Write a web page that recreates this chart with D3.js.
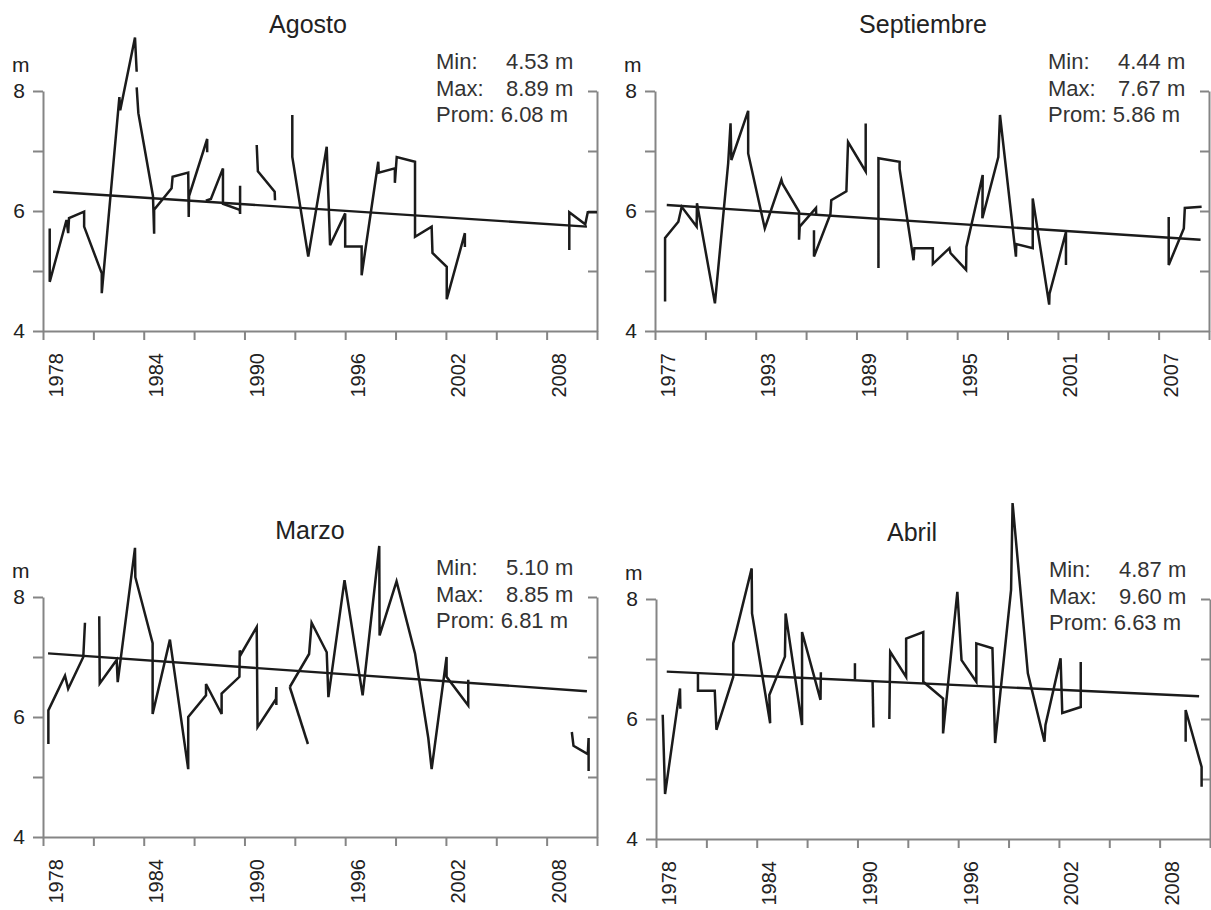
<!DOCTYPE html>
<html>
<head>
<meta charset="utf-8">
<script src="https://cdn.jsdelivr.net/npm/d3@7"></script>
<style>
  body { margin: 0; background: #fff; }
  svg { display: block; font-family: 'Liberation Sans', Arial, sans-serif; }
  .axis path, .axis line { stroke: #858585; stroke-width: 2; }
  .axis text { fill: #222; }
  .serie { fill: none; stroke: #1b1b1b; stroke-width: 2.5; stroke-linejoin: miter; }
  .trend { fill: none; stroke: #1b1b1b; stroke-width: 2.4; }
</style>
</head>
<body>
<div id="chart"></div>
<script>
// values: [year, metres], one inner array per unbroken piece of line
const agostoSegments = [
  [[1978.4, 5.71], [1978.4, 4.82], [1979.4, 5.85], [1979.5, 5.63], [1979.55, 5.88], [1980.45, 5.99],
   [1980.45, 5.74], [1981.5, 4.96], [1981.5, 4.63], [1982.55, 7.9], [1982.6, 7.68], [1983.48, 8.89],
   [1983.58, 8.32]],
  [[1983.58, 8.06], [1983.68, 7.63], [1984.55, 6.25], [1984.62, 5.62], [1984.62, 6.02], [1985.66, 6.38],
   [1985.72, 6.57], [1986.65, 6.64], [1986.68, 5.9], [1986.7, 6.25], [1987.78, 7.2], [1987.78, 6.98]],
  [[1987.7, 6.17], [1988.0, 6.2], [1988.72, 6.71], [1988.72, 6.12], [1989.72, 6.02], [1989.74, 5.95],
   [1989.74, 6.42]],
  [[1990.73, 7.1], [1990.8, 6.66], [1991.8, 6.32], [1991.82, 6.18]],
  [[1992.85, 7.6], [1992.85, 6.9], [1993.8, 5.24], [1994.9, 7.07], [1995.1, 5.43], [1996.0, 5.96],
   [1996.0, 5.41], [1996.98, 5.41], [1996.98, 4.93], [1997.97, 6.82], [1998.0, 6.64], [1998.96, 6.71],
   [1998.96, 6.47], [1999.07, 6.9], [2000.16, 6.82], [2000.16, 5.57], [2001.15, 5.74], [2001.2, 5.3],
   [2002.05, 5.07], [2002.05, 4.53], [2003.13, 5.63], [2003.13, 5.4]],
  [[2009.35, 5.35], [2009.35, 5.98], [2010.3, 5.78], [2010.45, 5.98], [2011, 5.98]]
];
const agostoTrend = [[1978.6, 6.32], [2010.4, 5.74]];
const agostoStats = ['4.53 m', '8.89 m', '6.08 m'];
const agostoYearLabels = ['1978', '1984', '1990', '1996', '2002', '2008'];

const septiembreSegments = [
  [[1977.6, 4.49], [1977.6, 5.55], [1978.39, 5.82], [1978.59, 6.07], [1979.48, 5.74], [1979.5, 6.13],
   [1980.57, 4.46], [1981.36, 6.8], [1981.5, 7.46], [1981.55, 6.85], [1982.55, 7.67], [1982.55, 6.96],
   [1983.54, 5.71], [1984.53, 6.52], [1984.6, 6.45], [1985.58, 5.99], [1985.58, 5.52], [1985.62, 5.74],
   [1986.59, 6.05], [1986.6, 5.95]],
  [[1986.47, 5.68], [1986.47, 5.24], [1987.45, 5.95], [1987.5, 6.18], [1988.4, 6.33], [1988.5, 7.15],
   [1989.55, 6.66], [1989.55, 7.46]],
  [[1990.31, 5.05], [1990.31, 6.88], [1991.57, 6.82], [1991.57, 6.7], [1992.4, 5.18], [1992.45, 5.38],
   [1993.55, 5.38], [1993.55, 5.12], [1994.54, 5.38], [1994.6, 5.3], [1995.53, 5.02], [1995.55, 5.4],
   [1996.52, 6.6], [1996.5, 5.88], [1997.45, 6.9], [1997.55, 7.6], [1998.5, 5.24], [1998.52, 5.45],
   [1999.5, 5.38], [1999.5, 6.21], [2000.48, 4.44], [2000.5, 4.62], [2001.48, 5.65], [2001.48, 5.1]],
  [[2007.6, 5.9], [2007.6, 5.1], [2008.5, 5.71], [2008.56, 6.05], [2009.56, 6.07]]
];
const septiembreTrend = [[1977.7, 6.1], [2009.5, 5.52]];
const septiembreStats = ['4.44 m', '7.67 m', '5.86 m'];
const septiembreYearLabels = ['1977', '1993', '1989', '1995', '2001', '2007'];

const marzoSegments = [
  [[1978.32, 5.55], [1978.32, 6.11], [1979.31, 6.69], [1979.5, 6.47], [1980.4, 7.0], [1980.5, 7.57]],
  [[1981.35, 7.68], [1981.38, 6.56], [1982.39, 6.95], [1982.45, 6.58], [1983.48, 8.82], [1983.5, 8.33],
   [1984.53, 7.23], [1984.53, 6.05], [1985.56, 7.29], [1986.65, 5.13], [1986.65, 6.0], [1987.71, 6.36],
   [1987.71, 6.55], [1988.64, 6.05], [1988.64, 6.39], [1989.7, 6.67], [1989.72, 7.11], [1989.8, 7.05],
   [1990.73, 7.5], [1990.78, 5.83], [1991.88, 6.3], [1991.9, 6.5], [1991.9, 6.2]],
  [[1992.7, 6.5], [1993.78, 5.55]],
  [[1992.7, 6.5], [1993.85, 7.05], [1994.0, 7.57], [1994.9, 7.08], [1995.0, 6.33], [1995.96, 8.28],
   [1997.04, 6.36], [1998.03, 8.85], [1998.05, 7.36], [1999.06, 8.26], [2000.16, 7.06], [2000.95, 5.65],
   [2001.15, 5.13], [2002.04, 7.0], [2002.04, 6.67], [2003.33, 6.19], [2003.33, 6.62]],
  [[2009.5, 5.75], [2009.6, 5.52], [2010.45, 5.38], [2010.5, 5.65], [2010.5, 5.1]]
];
const marzoTrend = [[1978.3, 7.06], [2010.4, 6.43]];
const marzoStats = ['5.10 m', '8.85 m', '6.81 m'];
const marzoYearLabels = ['1978', '1984', '1990', '1996', '2002', '2008'];

const abrilSegments = [
  [[1978.4, 6.07], [1978.54, 4.75], [1979.43, 6.51], [1979.45, 6.17]],
  [[1980.5, 6.78], [1980.5, 6.47], [1981.5, 6.47], [1981.6, 5.82], [1982.6, 6.7], [1982.6, 7.26],
   [1983.7, 8.51], [1983.72, 7.76], [1984.8, 5.93], [1984.75, 6.4], [1985.68, 7.04], [1985.72, 7.76],
   [1986.7, 5.9], [1986.7, 7.45], [1987.8, 6.32], [1987.82, 6.78]],
  [[1989.85, 6.93], [1989.85, 6.66]],
  [[1990.9, 6.65], [1990.95, 5.86]],
  [[1991.9, 6.0], [1991.95, 7.12], [1992.9, 6.7], [1992.9, 7.34], [1993.92, 7.45], [1993.92, 6.62],
   [1995.1, 6.34], [1995.1, 5.76], [1995.95, 8.12], [1996.2, 6.98], [1997.08, 6.62], [1997.08, 7.26],
   [1998.04, 7.18], [1998.2, 5.6], [1999.15, 8.15], [1999.24, 9.6], [2000.15, 6.76], [2001.14, 5.62],
   [2001.2, 5.9], [2002.1, 7.01], [2002.2, 6.1], [2003.3, 6.2], [2003.3, 6.95]],
  [[2009.55, 5.62], [2009.55, 6.15], [2010.5, 5.2], [2010.5, 4.87]]
];
const abrilTrend = [[1978.64, 6.79], [2010.35, 6.38]];
const abrilStats = ['4.87 m', '9.60 m', '6.63 m'];
const abrilYearLabels = ['1978', '1984', '1990', '1996', '2002', '2008'];

const statNames = ['Min:', 'Max:', 'Prom:'];
const yTicks = [4, 5, 6, 7, 8];
const yLabelled = [4, 6, 8];

const panels = [
  { title: 'Agosto', segments: agostoSegments, trend: agostoTrend, stats: agostoStats,
    labels: agostoYearLabels, start: 1978, left: 43, top: 91, titleX: 265 },
  { title: 'Septiembre', segments: septiembreSegments, trend: septiembreTrend, stats: septiembreStats,
    labels: septiembreYearLabels, start: 1977, left: 655, top: 91, titleX: 268 },
  { title: 'Marzo', segments: marzoSegments, trend: marzoTrend, stats: marzoStats,
    labels: marzoYearLabels, start: 1978, left: 43, top: 597, titleX: 267 },
  { title: 'Abril', segments: abrilSegments, trend: abrilTrend, stats: abrilStats,
    labels: abrilYearLabels, start: 1978, left: 656, top: 599, titleX: 256 }
];

const width = 554;
const height = 240;

const svg = d3.select('#chart')
  .append('svg')
  .attr('width', 1211)
  .attr('height', 910);

function drawPanel(p) {
  const g = svg.append('g').attr('transform', `translate(${p.left},${p.top})`);

  const xScale = d3.scaleLinear().domain([p.start, p.start + 33]).range([0, width]);
  const yScale = d3.scaleLinear().domain([4, 8]).range([height, 0]);
  const xTicks = d3.range(p.start, p.start + 34, 3);

  // bottom axis, labels on every other tick, rotated
  const xAxis = g.append('g')
    .attr('class', 'axis')
    .attr('transform', `translate(0,${height})`)
    .call(d3.axisBottom(xScale)
      .tickValues(xTicks)
      .tickSize(9)
      .tickSizeOuter(0)
      .tickFormat((d, i) => (i % 2 === 0 ? p.labels[i / 2] : '')));
  xAxis.selectAll('text')
    .attr('transform', 'rotate(-90)')
    .attr('x', -22)
    .attr('y', 0)
    .attr('dy', '0.95em')
    .style('text-anchor', 'end')
    .style('font-size', '20px');

  // left axis
  const yAxis = g.append('g')
    .attr('class', 'axis')
    .call(d3.axisLeft(yScale)
      .tickValues(yTicks)
      .tickSize(10)
      .tickSizeOuter(0)
      .tickPadding(8)
      .tickFormat(d => (yLabelled.includes(d) ? d : '')));
  yAxis.selectAll('text').style('font-size', '21px');

  // right axis, ticks pointing inwards, no labels
  g.append('g')
    .attr('class', 'axis')
    .attr('transform', `translate(${width},0)`)
    .call(d3.axisLeft(yScale)
      .tickValues([5, 6, 7, 8])
      .tickSize(9)
      .tickSizeOuter(0)
      .tickFormat(''));

  g.selectAll('.domain').attr('fill', 'none');

  const line = d3.line()
    .x(d => xScale(d[0]))
    .y(d => yScale(d[1]));

  g.selectAll('.serie')
    .data(p.segments)
    .enter()
    .append('path')
    .attr('class', 'serie')
    .attr('d', line);

  g.append('path')
    .datum(p.trend)
    .attr('class', 'trend')
    .attr('d', line);

  // unit
  g.append('text')
    .attr('x', -31)
    .attr('y', -19)
    .style('font-size', '21px')
    .attr('fill', '#222')
    .text('m');

  // title
  g.append('text')
    .attr('x', p.titleX)
    .attr('y', -58)
    .style('text-anchor', 'middle')
    .style('font-size', '25px')
    .attr('fill', '#222')
    .text(p.title);

  // Min / Max / Prom block
  const statY = [-22, 5, 31];
  statNames.forEach((name, i) => {
    const t = g.append('text')
      .attr('x', 393)
      .attr('y', statY[i])
      .style('font-size', '22px')
      .attr('fill', '#333');
    if (i < 2) {
      t.text(name);
      g.append('text')
        .attr('x', 463)
        .attr('y', statY[i])
        .style('font-size', '22px')
        .attr('fill', '#333')
        .text(p.stats[i]);
    } else {
      t.text(`${name} ${p.stats[i]}`);
    }
  });
}

panels.forEach(drawPanel);
</script>
</body>
</html>
